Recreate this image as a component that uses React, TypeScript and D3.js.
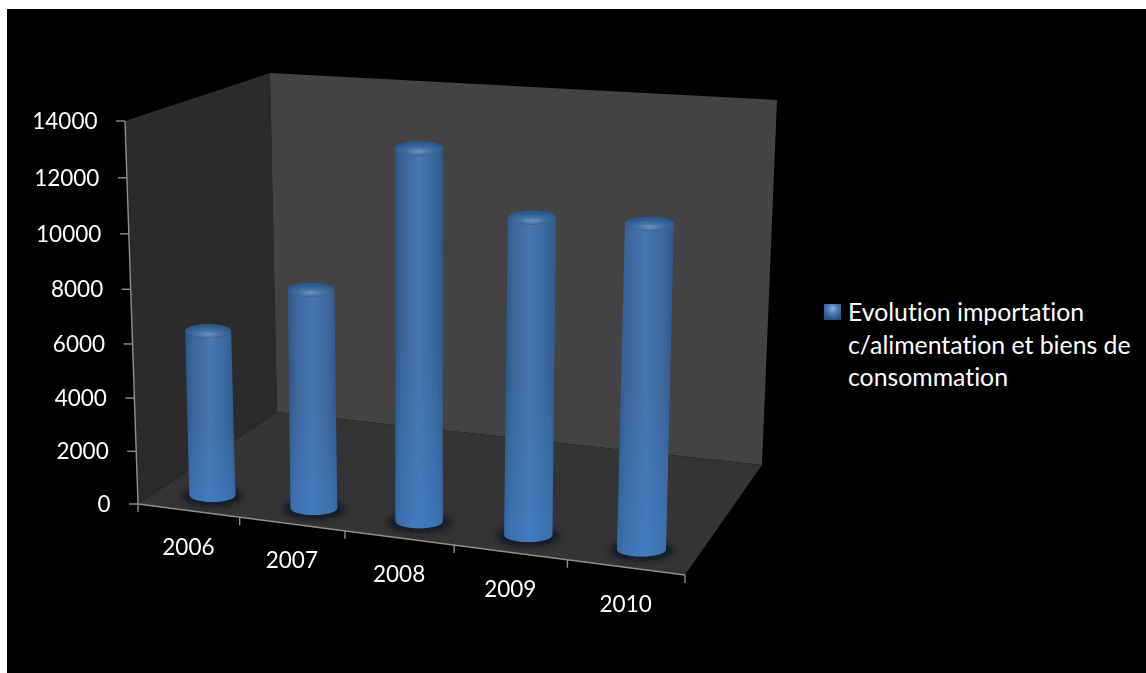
import React from "react";
import * as d3 from "d3";

// Imports of food and consumer goods, by year
const years = ["2006", "2007", "2008", "2009", "2010"];
const imports = [6220, 8100, 13400, 11300, 11400];
const valueTicks = [0, 2000, 4000, 6000, 8000, 10000, 12000, 14000];
const legendLines = ["Evolution importation", "c/alimentation et biens de", "consommation"];

type Pt = [number, number];

// Corners of the 3D box on screen: front and back planes, bottom and top.
const FBL: Pt = [138, 504], FBR: Pt = [685, 575], FTL: Pt = [125, 121], FTR: Pt = [697, 160];
const BBL: Pt = [277, 412], BBR: Pt = [762, 465], BTL: Pt = [270, 73], BTR: Pt = [777, 100];

// Foreshortening along each axis, as a projective warp of a 0..1 coordinate.
const warp = (w: number) => (t: number) => t / (t + w * (1 - t));
const warpX = warp(1.095);
const warpY = warp(1.045);

const uScale = d3.scaleLinear().domain([0, years.length]).range([0, 1]);
const vScale = d3.scaleLinear().domain([0, 14000]).range([0, 1]);
const mix = (a: Pt, b: Pt, t: number): Pt => [a[0] + (b[0] - a[0]) * t, a[1] + (b[1] - a[1]) * t];

// Project (category position, value, depth 0..1) onto the screen.
function project(u: number, v: number, depth = 0): Pt {
  const su = warpX(uScale(u));
  const sv = warpY(vScale(v));
  const bl = mix(FBL, BBL, depth), br = mix(FBR, BBR, depth);
  const tl = mix(FTL, BTL, depth), tr = mix(FTR, BTR, depth);
  return mix(mix(bl, br, su), mix(tl, tr, su), sv);
}

const poly = (pts: Pt[]) => d3.line()(pts) + "Z";
const BAR_DEPTH = 0.165;
const BAR_SHIFT = 2;
const barRadius = d3.scaleLinear().domain([0, 4]).range([23, 24.5]);
const CAP_RY = 7;
const font = "Lato, 'Open Sans', sans-serif";

export default function App() {
  return (
    <svg
      width={1146}
      height={673}
      style={{ position: "fixed", left: 0, top: 0, background: "#fff", fontVariantLigatures: "none" }}
      fontFamily={font}
    >
      <defs>
        <linearGradient id="barBody" x1="0" x2="1" y1="0" y2="0">
          <stop offset="0" stopColor="#2f5485" />
          <stop offset="0.14" stopColor="#3a6498" />
          <stop offset="0.5" stopColor="#4676b2" />
          <stop offset="0.86" stopColor="#3a6498" />
          <stop offset="1" stopColor="#30558a" />
        </linearGradient>
        <linearGradient id="barFade" x1="0" x2="0" y1="0" y2="1">
          <stop offset="0.5" stopColor="#3f83cf" stopOpacity="0" />
          <stop offset="1" stopColor="#3f83cf" stopOpacity="0.45" />
        </linearGradient>
        <radialGradient id="barCap" cx="0.5" cy="0.72" r="0.55">
          <stop offset="0" stopColor="#6a95c6" />
          <stop offset="0.45" stopColor="#44739f" />
          <stop offset="1" stopColor="#2c5a94" />
        </radialGradient>
        <radialGradient id="swatch" cx="0.5" cy="0.3" r="0.7">
          <stop offset="0" stopColor="#8fb4de" />
          <stop offset="0.45" stopColor="#4a79b2" />
          <stop offset="1" stopColor="#2b4f80" />
        </radialGradient>
        <filter id="soft" x="-20%" y="-40%" width="140%" height="180%">
          <feGaussianBlur stdDeviation="2.5" />
        </filter>
        <filter id="edge" x="-10%" y="-10%" width="120%" height="120%">
          <feGaussianBlur stdDeviation="0.7" />
        </filter>
      </defs>

      <rect x={7} y={9} width={1139} height={664} fill="#000" />

      {/* Box walls and floor */}
      <path d={poly([FTL, BTL, BBL, FBL])} fill="#2b2b2b" />
      <path d={poly([BTL, BTR, BBR, BBL])} fill="#434343" />
      <path d={poly([FBL, BBL, BBR, FBR])} fill="#343434" />

      {/* Cylinders */}
      {imports.map((value, i) => {
        const r = barRadius(i);
        const [bx0, by] = project(i + 0.5, 0, BAR_DEPTH);
        const [tx0, ty] = project(i + 0.5, value, BAR_DEPTH);
        const bx = bx0 + BAR_SHIFT;
        const tx = tx0 + BAR_SHIFT;
        const body = `M${tx - r},${ty} L${bx - r},${by} A${r},${CAP_RY} 0 0 0 ${bx + r},${by} L${tx + r},${ty} A${r},${CAP_RY} 0 0 1 ${tx - r},${ty}Z`;
        return (
          <g key={years[i]} filter="url(#edge)">
            <ellipse cx={bx} cy={by + 1} rx={r + 8} ry={CAP_RY + 4} fill="#121a26" filter="url(#soft)" />
            <path d={body} fill="url(#barBody)" />
            <path d={body} fill="url(#barFade)" />
            <ellipse cx={tx} cy={ty} rx={r} ry={CAP_RY} fill="url(#barCap)" />
          </g>
        );
      })}

      {/* Value axis */}
      <g stroke="#8f8f8f" strokeWidth={1.4} fill="none">
        <path d={d3.line()([project(0, 0), project(0, 14000)]) as string} />
        {valueTicks.map((t) => {
          const [x, y] = project(0, t);
          return <path key={t} d={`M${x - 9},${y}H${x}`} />;
        })}
        <path d={d3.line()([project(0, 0), project(years.length, 0)]) as string} />
        {d3.range(years.length + 1).map((i) => {
          const [x, y] = project(i, 0);
          return <path key={i} d={`M${x},${y}V${y + 8}`} />;
        })}
      </g>

      <g fill="#fff" fontSize={22.5}>
        {valueTicks.map((t) => {
          const [x, y] = project(0, t);
          return (
            <text key={t} x={x - 27.5} y={y + 8} textAnchor="end">
              {t}
            </text>
          );
        })}
        {years.map((year, i) => {
          const [x, y] = project(i + 0.5, 0);
          return (
            <text key={year} x={x} y={y + 44.5} textAnchor="middle">
              {year}
            </text>
          );
        })}
      </g>

      {/* Legend */}
      <rect x={824} y={304} width={17} height={16} fill="url(#swatch)" filter="url(#edge)" />
      <g fill="#fff" fontSize={24.8}>
        {legendLines.map((line, i) => (
          <text key={line} x={848} y={321 + i * 32.5}>
            {line}
          </text>
        ))}
      </g>
    </svg>
  );
}
